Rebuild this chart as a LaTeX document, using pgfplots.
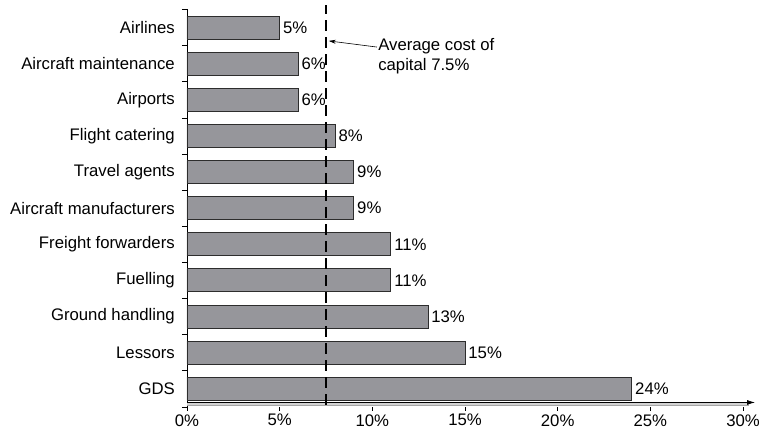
\documentclass[border=0pt]{standalone}
\usepackage{fontspec}
\setmainfont{Liberation Sans}
\usepackage{pgfplots}
\pgfplotsset{compat=1.18}
\usetikzlibrary{arrows.meta}
\definecolor{bargray}{RGB}{150,150,155}
\definecolor{edge}{RGB}{45,45,45}
\begin{document}
\begin{tikzpicture}[font=\fontsize{16.8}{20.5}\selectfont]
\begin{axis}[
  name=ax,
  scale only axis, width=556bp, height=397.3bp,
  xmin=0, xmax=30, ymin=-0.5, ymax=10.5,
  axis x line=bottom, axis y line=left,
  x axis line style={draw=none},
  y axis line style={-, line width=0.8bp},
  xtick={0,5,...,30},
  xticklabels={0\%,5\%,10\%,15\%,20\%,25\%,30\%},
  ytick={0,...,10},
  yticklabels={GDS,Lessors,Ground handling,Fuelling,Freight forwarders,Aircraft manufacturers,Travel agents,Flight catering,Airports,Aircraft maintenance,Airlines},
  minor ytick={-0.5,0.5,...,10.5},
  tick align=outside,
  major tick length=4bp, minor tick length=5bp,
  major y tick style={draw=none},
  tick style={black, line width=0.6bp},
  yticklabel style={xshift=-4.7bp},
  /pgf/number format/assume math mode=true,
  xbar, bar width=23bp,
  nodes near coords={\pgfmathprintnumber{\pgfplotspointmeta}\%},
  every node near coord/.append style={anchor=west, inner sep=3bp, font=\fontsize{16.8}{20.5}\selectfont},
  clip=false,
]
\addplot[xbar, fill=bargray, draw=edge, line width=0.8bp] coordinates {
  (24,0) (15,1) (13,2) (11,3) (11,4) (9,5) (9,6) (8,7) (6,8) (6,9) (5,10)};
\fill[gray!35] (axis cs:0,-0.465) rectangle (axis cs:30.3,-0.38);
\draw[gray!70, line width=0.4bp] (axis cs:0,-0.465) -- (axis cs:30.3,-0.465);
\draw[line width=0.8bp, -{Latex[length=8bp,width=5bp]}] (axis cs:0,-0.38) -- (axis cs:30.65,-0.38);
\draw[line width=2.6bp, dash pattern=on 11bp off 6bp] (axis cs:7.5,-0.45) -- (axis cs:7.5,10.62);
\draw[line width=0.6bp, -{Stealth[length=7bp,width=4bp]}] (axis cs:10.25,9.46) -- (axis cs:7.65,9.63);
\node[anchor=north west, align=left, inner sep=0] at (axis cs:10.31,9.71) {Average cost of\\capital 7.5\%};
\end{axis}
\pgfresetboundingbox
\path[use as bounding box] (ax.south west) ++(-187bp,-24.2bp) rectangle ++(759bp,431bp);
\end{tikzpicture}
\end{document}
